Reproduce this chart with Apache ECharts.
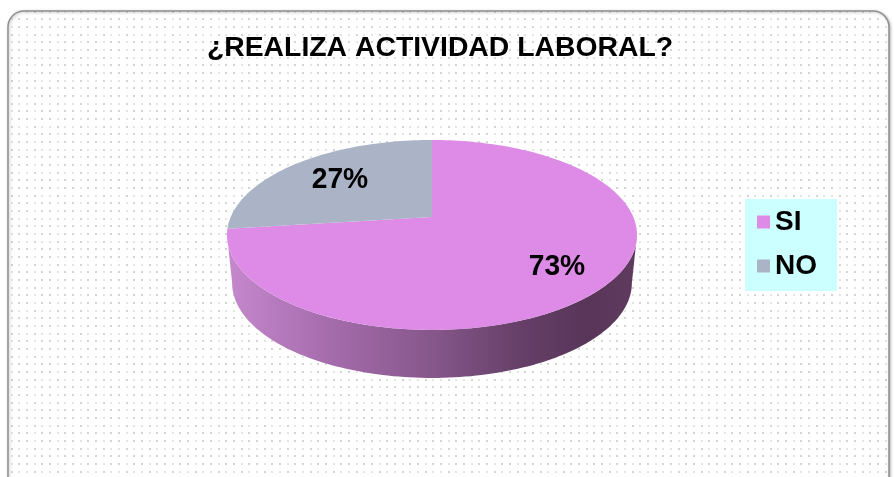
<!DOCTYPE html>
<html><head><meta charset="utf-8">
<script src="https://cdn.jsdelivr.net/npm/echarts@6/dist/echarts.min.js"></script>
<style>html,body{margin:0;padding:0;background:#fff}#c{width:894px;height:477px}</style>
</head><body><div id="c"></div>
<script>
// ---- data ----
const titleText = '¿REALIZA ACTIVIDAD LABORAL?';
const categories = ['SI', 'NO'];
const values = [73, 27];
const colors = ['#DD8BE6', '#AAB4C6'];
const labelRadius = [0.75, 0.66];

// ---- 3D pie geometry (style) ----
const CX = 432, CY = 217, R = 201.3, S = 91.6, P = 0.189, DEPTH = 48, BSCALE = 0.975;
const FONT = '"Liberation Sans", Arial, sans-serif';
function proj(theta, r, bottom) {
  const u = r * Math.sin(theta), v = -r * Math.cos(theta);
  const d = 1 - P * v;
  const k = bottom ? BSCALE : 1;
  return [CX + R * k * u / d, CY + (bottom ? DEPTH : 0) + S * v / d];
}
const total = values.reduce((a, b) => a + b, 0);
const spans = [];
let acc = 0;
values.forEach(v => { const a0 = acc / total * 2 * Math.PI; acc += v; spans.push([a0, acc / total * 2 * Math.PI]); });
const SIL_A = Math.acos(-P), SIL_B = 2 * Math.PI - Math.acos(-P);

function pattern() {
  const c = document.createElement('canvas');
  c.width = 23; c.height = 23;
  const g = c.getContext('2d');
  g.fillStyle = '#fff'; g.fillRect(0, 0, 23, 23);
  const pos = [0, 8, 15];
  pos.forEach((y, j) => pos.forEach((x, i) => {
    g.fillStyle = ((i + j) % 2 === 0) ? '#d4d4d4' : '#e4e4e4';
    g.fillRect(x + 3, y + 3, 2, 2);
  }));
  return c;
}

function makeRender(idx) {
  return function (params, api) {
    const [a0, a1] = spans[idx];
    const children = [];
    const N = 120;
    const lo = Math.max(a0, SIL_A), hi = Math.min(a1, SIL_B);
    if (hi > lo) {
      const pts = [];
      for (let i = 0; i <= N; i++) pts.push(proj(lo + (hi - lo) * i / N, 1, false));
      for (let i = N; i >= 0; i--) pts.push(proj(lo + (hi - lo) * i / N, 1, true));
      children.push({
        type: 'polygon', z2: 1, shape: { points: pts },
        style: {
          fill: new echarts.graphic.LinearGradient(0, 0, 1, 0, [
            { offset: 0, color: '#C588CD' },
            { offset: 0.25, color: '#A56CAC' },
            { offset: 0.5, color: '#86578B' },
            { offset: 0.72, color: '#653F67' },
            { offset: 0.88, color: '#59355A' },
            { offset: 1, color: '#5E3B5F' }
          ])
        }
      });
    }
    const top = [proj(0, 0, false)];
    const steps = Math.max(4, Math.ceil(N * (a1 - a0) / Math.PI));
    for (let i = 0; i <= steps; i++) top.push(proj(a0 + (a1 - a0) * i / steps, 1, false));
    children.push({ type: 'polygon', z2: 10, shape: { points: top }, style: { fill: api.visual('color') } });
    const mid = (a0 + a1) / 2;
    const lp = proj(mid, labelRadius[idx], false);
    const pct = Math.round(api.value(0) / total * 100) + '%';
    children.push({
      type: 'text', z2: 20, x: lp[0], y: lp[1], scaleX: 0.94,
      style: { text: pct, fill: '#000', fontSize: 30, fontWeight: 'bold', fontFamily: FONT, align: 'center', verticalAlign: 'middle' }
    });
    return { type: 'group', children };
  };
}

const chart = echarts.init(document.getElementById('c'), null, { renderer: 'canvas' });
chart.setOption({
  animation: false,
  backgroundColor: '#fff',
  graphic: [
    {
      type: 'rect', z: -10, shape: { x: 8, y: 11, width: 881, height: 482, r: 16 },
      style: { fill: { image: pattern(), repeat: 'repeat' }, stroke: '#8f8f8f', lineWidth: 1.5,
        shadowBlur: 3, shadowColor: 'rgba(0,0,0,0.25)', shadowOffsetX: 1, shadowOffsetY: 1 }
    },
    {
      type: 'text', z: 10, x: 440, y: 49, scaleX: 1.05,
      style: { text: titleText, fill: '#000', fontSize: 27, fontWeight: 'bold', fontFamily: FONT, align: 'center', verticalAlign: 'middle' }
    }
  ],
  legend: {
    orient: 'vertical', left: 745, top: 199,
    backgroundColor: '#CCFFFF', padding: [9, 20, 11, 12],
    itemWidth: 13, itemHeight: 13, itemGap: 16, icon: 'rect',
    textStyle: { fontSize: 28, fontWeight: 'bold', color: '#000', fontFamily: FONT },
    data: categories
  },
  series: categories.map((name, i) => ({
    type: 'custom', name: name, coordinateSystem: 'none',
    itemStyle: { color: colors[i] },
    renderItem: makeRender(i),
    data: [[values[i]]]
  }))
});
</script></body></html>
